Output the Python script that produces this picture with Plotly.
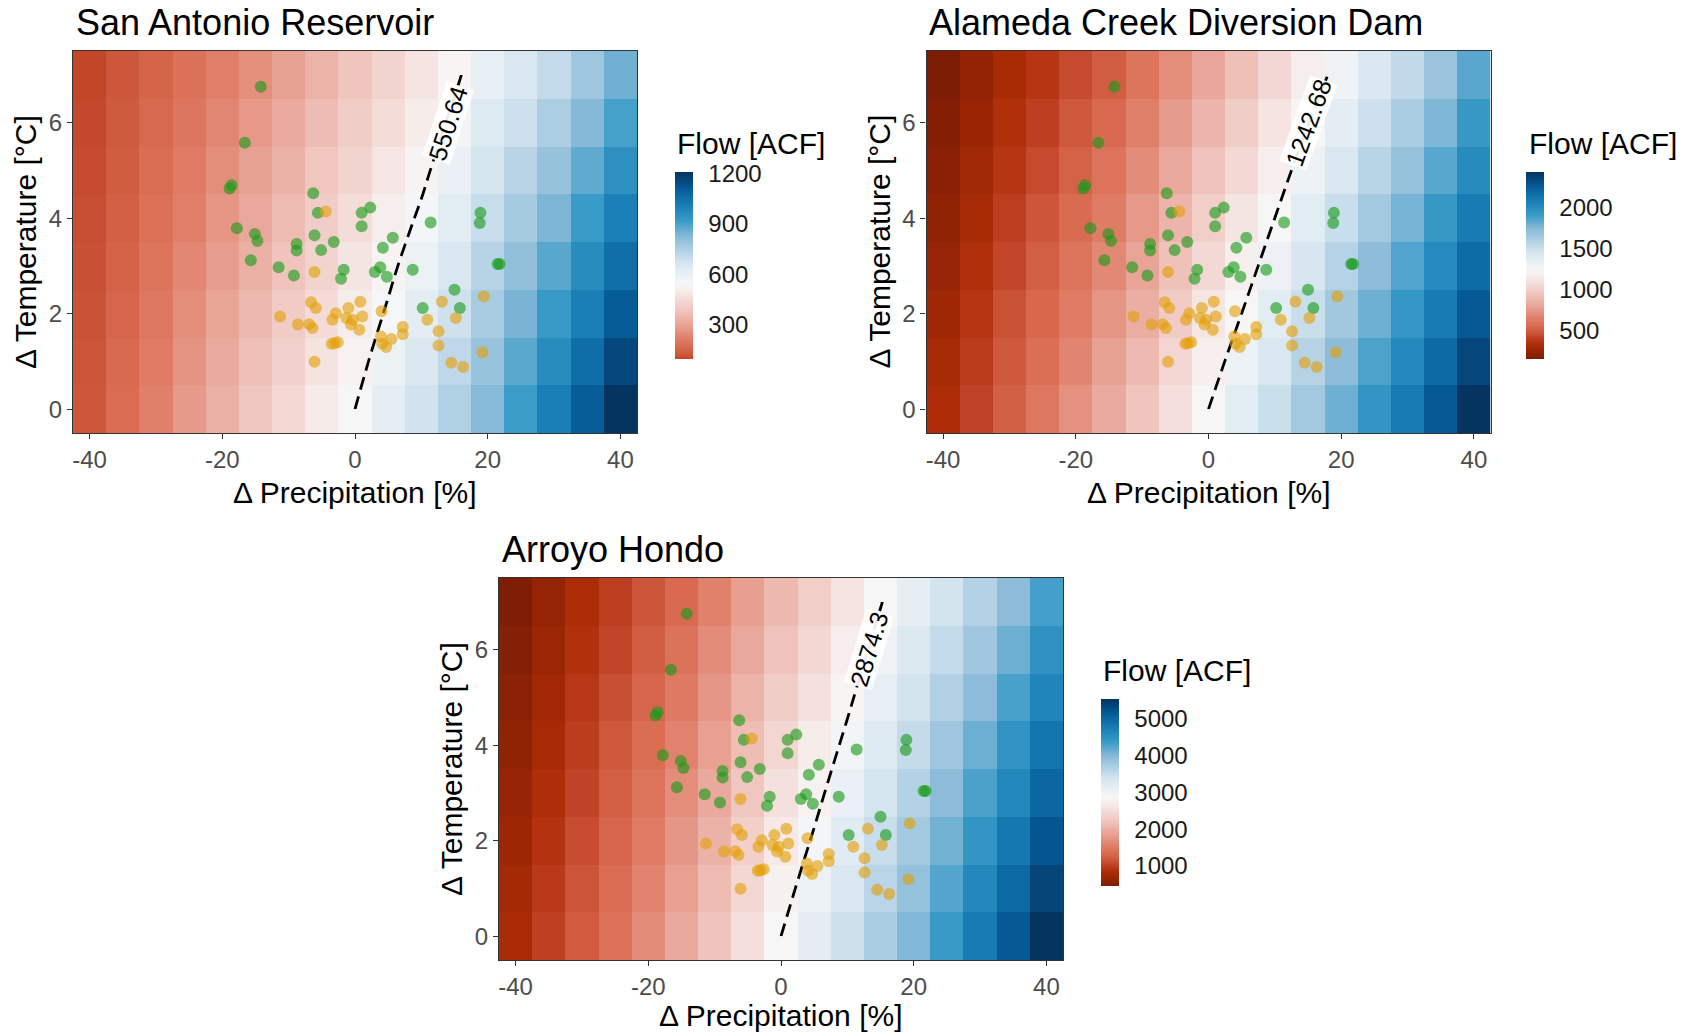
import plotly.graph_objects as go

# ---------------- data ----------------
precip_change = [-40, -35, -30, -25, -20, -15, -10, -5, 0, 5, 10, 15, 20, 25, 30, 35, 40]
temp_change = [0, 1, 2, 3, 4, 5, 6, 7]

# rows: temperature change 0..7 degC ; columns: precipitation change -40..40 %
flow_san_antonio = [
    [125, 172, 225, 280, 335, 390, 445, 498, 550.64, 610, 675, 745, 825, 915, 1010, 1105, 1209],
    [121, 165, 215, 267, 319, 371, 424, 476, 527, 585, 647, 715, 793, 878, 967, 1059, 1158],
    [117, 159, 205, 254, 303, 352, 404, 454, 503, 559, 619, 686, 762, 841, 924, 1012, 1107],
    [113, 152, 195, 241, 287, 333, 383, 432, 480, 534, 591, 656, 730, 804, 881, 966, 1056],
    [110, 145, 185, 227, 270, 315, 362, 409, 456, 508, 562, 626, 698, 766, 839, 919, 1006],
    [106, 138, 175, 214, 254, 296, 341, 387, 432, 483, 534, 596, 666, 729, 796, 873, 955],
    [102, 132, 165, 201, 238, 277, 321, 365, 409, 457, 506, 567, 635, 692, 753, 826, 904],
    [98, 125, 155, 188, 222, 258, 300, 343, 385, 432, 478, 537, 603, 655, 710, 780, 853],
]
flow_alameda = [
    [330, 420, 515, 615, 720, 830, 945, 1090, 1242.68, 1370, 1500, 1640, 1790, 1940, 2095, 2258, 2427],
    [305, 394, 486, 580, 680, 784, 896, 1036, 1182, 1306, 1436, 1573, 1719, 1865, 2014, 2174, 2342],
    [281, 367, 458, 545, 640, 737, 848, 981, 1120, 1243, 1371, 1506, 1647, 1790, 1934, 2090, 2258],
    [256, 341, 429, 510, 600, 691, 799, 927, 1059, 1179, 1307, 1439, 1576, 1715, 1853, 2006, 2173],
    [231, 315, 401, 475, 560, 644, 751, 873, 998, 1116, 1243, 1373, 1504, 1640, 1772, 1922, 2089],
    [206, 289, 372, 440, 520, 598, 702, 819, 937, 1052, 1179, 1306, 1433, 1565, 1691, 1838, 2004],
    [182, 262, 344, 405, 480, 551, 654, 764, 876, 989, 1114, 1239, 1361, 1490, 1611, 1754, 1920],
    [157, 236, 315, 370, 440, 505, 605, 710, 815, 925, 1050, 1172, 1290, 1415, 1530, 1670, 1835],
]
flow_arroyo_hondo = [
    [820, 1010, 1200, 1420, 1670, 1930, 2200, 2530, 2874.3, 3140, 3420, 3700, 4000, 4370, 4760, 5140, 5520],
    [769, 959, 1147, 1359, 1596, 1846, 2111, 2430, 2761, 3023, 3300, 3580, 3873, 4226, 4597, 4969, 5346],
    [717, 907, 1094, 1297, 1521, 1761, 2023, 2330, 2647, 2906, 3180, 3460, 3746, 4081, 4434, 4797, 5171],
    [666, 856, 1041, 1236, 1447, 1677, 1934, 2230, 2534, 2789, 3060, 3340, 3619, 3937, 4271, 4626, 4997],
    [615, 804, 989, 1174, 1373, 1593, 1846, 2130, 2420, 2671, 2940, 3220, 3491, 3793, 4109, 4454, 4823],
    [564, 753, 936, 1113, 1299, 1509, 1757, 2030, 2307, 2554, 2820, 3100, 3364, 3649, 3946, 4283, 4649],
    [512, 701, 883, 1051, 1224, 1424, 1669, 1930, 2194, 2437, 2700, 2980, 3237, 3504, 3783, 4111, 4474],
    [461, 650, 830, 990, 1150, 1340, 1580, 1830, 2080, 2320, 2580, 2860, 3110, 3360, 3620, 3940, 4300],
]

baseline_flows = [550.64, 1242.68, 2874.3]
baseline_labels = ["550.64", "1242.68", "2874.3"]
panel_titles = ["San Antonio Reservoir", "Alameda Creek Diversion Dam", "Arroyo Hondo"]
colorbar_ticks = [[300, 600, 900, 1200], [500, 1000, 1500, 2000], [1000, 2000, 3000, 4000, 5000]]

x_tick_values = [-40, -20, 0, 20, 40]
x_tick_labels = ["-40", "-20", "0", "20", "40"]
y_tick_values = [0, 2, 4, 6]
y_tick_labels = ["0", "2", "4", "6"]

# projections (same in every panel)
green_dp = [-14.2, -16.6, -18.6, -18.9, -17.8, -15.1, -14.7, -15.7, -11.5, -9.2, -8.8, -8.8,
            -6.3, -5.6, -6.1, -5.1, -3.2, -1.7, -2.1, 1.0, 2.3, 1.0, 4.2, 5.7, 3.0, 3.8, 4.8,
            8.7, 11.4, 10.2, 15.0, 15.8, 18.9, 18.8, 21.5, 21.8]
green_dt = [6.75, 5.58, 4.69, 4.62, 3.79, 3.67, 3.52, 3.12, 2.97, 2.80, 3.46, 3.32,
            4.52, 4.11, 3.64, 3.33, 3.50, 2.92, 2.73, 4.11, 4.22, 3.83, 3.38, 3.59, 2.87, 2.97, 2.77,
            2.92, 3.91, 2.12, 2.50, 2.12, 4.11, 3.90, 3.04, 3.04]
yellow_dp = [-4.4, -6.1, -6.6, -5.9, -11.3, -8.6, -6.9, -6.4, -6.1, -3.5, -3.1, -2.6, -3.4, -2.9,
             -1.0, -1.3, -0.35, -0.6, 0.65, 0.8, 1.1, 4.0, 3.9, 4.1, 4.7, 5.5, 7.2, 7.2, 10.9,
             13.1, 12.6, 12.6, 15.2, 14.5, 16.3, 19.4, 19.2]
yellow_dt = [4.14, 2.87, 2.24, 2.12, 1.94, 1.77, 1.78, 1.70, 0.99, 1.37, 1.38, 1.40, 1.87, 2.01,
             2.12, 1.91, 1.87, 1.77, 1.66, 2.25, 1.94, 2.05, 1.52, 1.37, 1.30, 1.47, 1.72, 1.57, 1.87,
             2.25, 1.63, 1.33, 1.91, 0.97, 0.88, 2.36, 1.19]

# ---------------- style ----------------
W, H = 1696, 1035
FONT = "Liberation Sans, Arial, sans-serif"

# diverging palette, position 0.5 = baseline (mid-rescaled like ggplot gradient2)
PAL_POS = [0.0, 0.044, 0.08, 0.115, 0.15, 0.173, 0.211, 0.253, 0.294, 0.336, 0.378, 0.42, 0.46,
           0.5, 0.545, 0.594, 0.648, 0.708, 0.777, 0.849, 0.921, 1.0]
PAL_HEX = ["#6a1702", "#7f1d05", "#952405", "#ad2c05", "#bf4024", "#cc5538", "#d96b50", "#e07f6a",
           "#e69a8a", "#ebb0a5", "#f0c7c0", "#f3d8d4", "#f6ebe9", "#f7f7f7", "#e6eef4", "#d3e4ef",
           "#b0d0e4", "#88bad8", "#3b9cc8", "#1a7fb7", "#055d99", "#053461"]


def hex2rgb(h):
    h = h.lstrip("#")
    return [int(h[i:i + 2], 16) for i in (0, 2, 4)]


PAL_RGB = [hex2rgb(h) for h in PAL_HEX]


def pal(p):
    p = min(max(p, 0.0), 1.0)
    for i in range(len(PAL_POS) - 1):
        a, b = PAL_POS[i], PAL_POS[i + 1]
        if a <= p <= b:
            t = (p - a) / (b - a) if b > a else 0
            c = [PAL_RGB[i][k] + (PAL_RGB[i + 1][k] - PAL_RGB[i][k]) * t for k in range(3)]
            return "rgb(%d,%d,%d)" % tuple(round(v) for v in c)
    return "rgb(%d,%d,%d)" % tuple(PAL_RGB[-1])


def panel_scale(vmin, vmax, mid, n=80):
    D = max(vmax - mid, mid - vmin)
    out = []
    for i in range(n + 1):
        q = i / n
        v = vmin + q * (vmax - vmin)
        out.append([q, pal(0.5 + (v - mid) / (2 * D))])
    return out


grids = [flow_san_antonio, flow_alameda, flow_arroyo_hondo]

# pixel layout for each panel
layouts = [
    dict(l=73, r=637, t=51, b=433, cbx=674.5, cbt=172, tx=73.5, ty=22, lgx=675, lgy=144,
         xty=492, lab=(14.0, 6.0, -72)),
    dict(l=926.5, r=1490.5, t=51, b=433, cbx=1526, cbt=172, tx=926.5, ty=22, lgx=1527, lgy=144,
         xty=492, lab=(15.0, 6.0, -70)),
    dict(l=499, r=1063, t=578, b=960, cbx=1101, cbt=699, tx=499.5, ty=549, lgx=1101, lgy=670,
         xty=1015, lab=(13.2, 6.0, -73)),
]

fig = go.Figure()
annotations = []

for i, (grid, L) in enumerate(zip(grids, layouts)):
    k = "" if i == 0 else str(i + 1)
    xa, ya = "x" + k, "y" + k
    flat = [v for row in grid for v in row]
    vmin, vmax = min(flat), max(flat)
    base = baseline_flows[i]
    cb_len = 187
    fig.add_trace(go.Heatmap(
        x=precip_change, y=temp_change, z=grid, xaxis=xa, yaxis=ya,
        zmin=vmin, zmax=vmax, colorscale=panel_scale(vmin, vmax, base),
        hoverinfo="skip",
        colorbar=dict(
            x=L["cbx"] / W, xanchor="left", xpad=0,
            y=1 - (L["cbt"] + cb_len / 2) / H, yanchor="middle", ypad=0,
            len=cb_len, lenmode="pixels", thickness=18, thicknessmode="pixels",
            outlinewidth=0, tickvals=colorbar_ticks[i],
            ticktext=[str(t) for t in colorbar_ticks[i]],
            ticks="outside", ticklen=11, tickcolor="rgba(0,0,0,0)",
            tickfont=dict(family=FONT, size=24, color="#1a1a1a"),
        ),
    ))
    fig.add_trace(go.Contour(
        x=precip_change, y=temp_change, z=grid, xaxis=xa, yaxis=ya,
        autocontour=False,
        contours=dict(start=base, end=base, size=1, coloring="none", showlabels=False),
        line=dict(color="black", width=2.8, dash="13px,7px"),
        showscale=False, hoverinfo="skip",
    ))
    fig.add_trace(go.Scatter(
        x=green_dp, y=green_dt, xaxis=xa, yaxis=ya, mode="markers",
        marker=dict(size=12, color="rgb(25,155,25)", opacity=0.62, line=dict(width=0)),
        hoverinfo="skip", showlegend=False,
    ))
    fig.add_trace(go.Scatter(
        x=yellow_dp, y=yellow_dt, xaxis=xa, yaxis=ya, mode="markers",
        marker=dict(size=12, color="rgb(228,160,10)", opacity=0.62, line=dict(width=0)),
        hoverinfo="skip", showlegend=False,
    ))

    axis_common = dict(
        ticks="outside", ticklen=5, tickwidth=1.1, tickcolor="#333333",
        showline=True, linecolor="#333333", linewidth=1.2, mirror=True,
        showgrid=False, zeroline=False,
        tickfont=dict(family=FONT, size=24, color="#4d4d4d"),
    )
    fig.update_layout(**{
        ("xaxis" + k): dict(domain=[L["l"] / W, L["r"] / W], range=[-42.5, 42.5],
                            tickvals=x_tick_values, ticktext=x_tick_labels, anchor=ya, **axis_common),
        ("yaxis" + k): dict(domain=[1 - L["b"] / H, 1 - L["t"] / H], range=[-0.5, 7.5],
                            tickvals=y_tick_values, ticktext=y_tick_labels, anchor=xa, **axis_common),
    })

    cx = (L["l"] + L["r"]) / 2
    cy = (L["t"] + L["b"]) / 2
    # panel title
    annotations.append(dict(text=panel_titles[i], x=L["tx"] / W, y=1 - L["ty"] / H, xref="paper",
                            yref="paper", xanchor="left", yanchor="middle", showarrow=False,
                            font=dict(family=FONT, size=36, color="black")))
    # axis titles
    annotations.append(dict(text="Δ Precipitation [%]", x=cx / W, y=1 - L["xty"] / H,
                            xref="paper", yref="paper", xanchor="center", yanchor="middle",
                            showarrow=False, font=dict(family=FONT, size=30, color="black")))
    annotations.append(dict(text="Δ Temperature [°C]", x=(L["l"] - 48) / W, y=1 - cy / H,
                            xref="paper", yref="paper", xanchor="center", yanchor="middle",
                            textangle=-90, showarrow=False,
                            font=dict(family=FONT, size=30, color="black")))
    # legend title
    annotations.append(dict(text="Flow [ACF]", x=L["lgx"] / W, y=1 - L["lgy"] / H, xref="paper",
                            yref="paper", xanchor="left", yanchor="middle", showarrow=False,
                            font=dict(family=FONT, size=30, color="black")))
    # contour label
    lx, ly, ang = L["lab"]
    annotations.append(dict(text=baseline_labels[i], x=lx, y=ly, xref=xa, yref=ya,
                            xanchor="center", yanchor="middle", textangle=ang, showarrow=False,
                            bgcolor="rgba(255,255,255,0.92)", borderpad=0,
                            font=dict(family=FONT, size=25, color="black")))

fig.update_layout(
    width=W, height=H, margin=dict(l=0, r=0, t=0, b=0),
    paper_bgcolor="white", plot_bgcolor="white", showlegend=False,
    annotations=annotations,
)

fig.write_html("out.html")
